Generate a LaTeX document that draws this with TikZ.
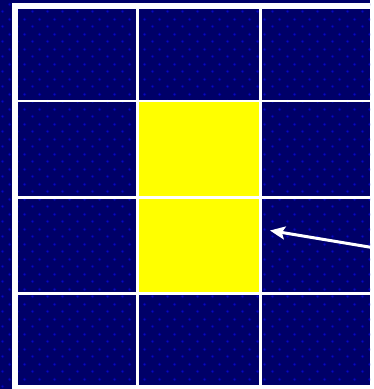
\documentclass[tikz,border=0pt]{standalone}
\usetikzlibrary{arrows.meta,patterns.meta}

\definecolor{navy}{RGB}{0,0,104}
\definecolor{dotblue}{RGB}{10,10,190}
\definecolor{dothalo}{RGB}{0,0,150}
\definecolor{cellyellow}{RGB}{255,255,0}

\tikzdeclarepattern{name=navydots, type=colored,
  bounding box={(0pt,0pt) and (15pt,15pt)}, tile size={(15pt,15pt)},
  code={
    \fill[dothalo] (3.75pt,3.75pt) circle (1.9pt);
    \fill[dothalo] (11.25pt,11.25pt) circle (1.9pt);
    \fill[dotblue] (3.75pt,3.75pt) circle (1pt);
    \fill[dotblue] (11.25pt,11.25pt) circle (1pt);
  }}

\tikzset{
  darkcell/.style={fill=navy, postaction={pattern=navydots}},
  litcell/.style={fill=cellyellow},
  gridline/.style={fill=white},
  pointer/.style={draw=white, line width=3pt, -{Stealth[length=15pt,width=13pt,inset=3pt]}}
}

\begin{document}
\begin{tikzpicture}[x=1pt, y=-1pt]
  % dotted navy ground
  \fill[darkcell] (0,0) rectangle (370,389);
  % white frame and grid lines
  \fill[gridline] (12,3) rectangle (18,389);
  \fill[gridline] (12,3) rectangle (370,9);
  \fill[gridline] (12,385) rectangle (370,389);
  \foreach \xa/\xb in {136/139, 259/261.5}
    \fill[gridline] (\xa,9) rectangle (\xb,389);
  \foreach \ya/\yb in {100/102, 196/198.5, 292/294.5}
    \fill[gridline] (18,\ya) rectangle (370,\yb);
  % highlighted cells
  \fill[litcell] (139,102) rectangle (259,196);
  \fill[litcell] (139,198.5) rectangle (259,292);
  % pointer
  \coordinate (tail) at (372,247.5);
  \coordinate (tip) at (270,230.5);
  \draw[pointer] (tail) -- (tip);
  \useasboundingbox (0,0) rectangle (370,389);
\end{tikzpicture}
\end{document}
